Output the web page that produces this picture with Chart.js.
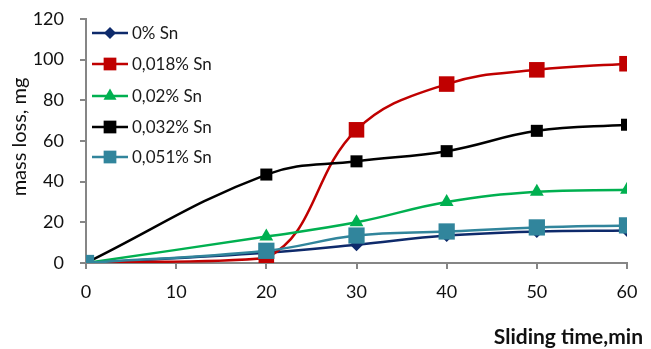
<!DOCTYPE html>
<html>
<head>
<meta charset="utf-8">
<script src="https://cdn.jsdelivr.net/npm/chart.js@4/dist/chart.umd.min.js"></script>
<style>
  html, body { margin: 0; padding: 0; background: #fff; }
  #wrap { width: 651px; height: 349px; }
</style>
</head>
<body>
<div id="wrap"><canvas id="c" width="651" height="349"></canvas></div>
<script>
// Sliding time (min) at which mass loss was measured
const times = [0, 20, 30, 40, 50, 60];

// Mass loss (mg) per tin content
const seriesNames = ['0% Sn', '0,018% Sn', '0,02% Sn', '0,032% Sn', '0,051% Sn'];
const sn0   = [0, 5, 9, 13.5, 15.5, 16];
const sn018 = [0, 2.5, 65.5, 88, 95, 98];
const sn02  = [0, 13, 20, 30, 35, 36];
const sn032 = [0, 43.5, 50, 55, 65, 68];
const sn051 = [0, 6, 13.5, 15.5, 17.5, 18.5];

const yTicks = [0, 20, 40, 60, 80, 100, 120];
const xTicks = [0, 10, 20, 30, 40, 50, 60];

const xTitle = 'Sliding time,min';
const yTitle = 'mass loss, mg';

const FONT = 'Lato, "Liberation Sans", sans-serif';
const AXIS = '#868686';

function pts(vals) {
  return times.map((t, i) => ({ x: t, y: vals[i] }));
}

const styles = [
  { color: '#0E2A6B', point: 'rectRot', r: 6.5 },
  { color: '#C00000', point: 'rect', r: 11 },
  { color: '#00B050', point: 'triangle', r: 8 },
  { color: '#000000', point: 'rect', r: 8.5 },
  { color: '#31859C', point: 'rect', r: 11.5 }
];
const values = [sn0, sn018, sn02, sn032, sn051];

const datasets = values.map((v, i) => ({
  label: seriesNames[i],
  data: pts(v),
  borderColor: styles[i].color,
  backgroundColor: styles[i].color,
  borderWidth: 2.5,
  pointStyle: styles[i].point,
  pointRadius: styles[i].r,
  pointHoverRadius: styles[i].r,
  pointBorderWidth: 0,
  tension: 0.4,
  order: 5 - i
}));

// Legend drawn inside the plot: line sample with centred marker, then label
const insideLegend = {
  id: 'insideLegend',
  afterDatasetsDraw(chart) {
    const ctx = chart.ctx;
    const x0 = 92, x1 = 128, tx = 132;
    const rows = [33, 64, 96, 127, 157];
    ctx.save();
    chart.data.datasets.forEach((ds, i) => {
      const y = rows[i];
      ctx.strokeStyle = ds.borderColor;
      ctx.lineWidth = 2.5;
      ctx.beginPath();
      ctx.moveTo(x0, y);
      ctx.lineTo(x1, y);
      ctx.stroke();
      ctx.fillStyle = ds.backgroundColor;
      const r = ds.pointStyle === 'rect' ? 9 : (ds.pointStyle === 'triangle' ? 7.5 : 6);
      Chart.helpers.drawPoint(ctx, { pointStyle: ds.pointStyle, radius: r, borderWidth: 0 }, (x0 + x1) / 2, y);
      ctx.fillStyle = '#1a1a1a';
      ctx.font = '17px ' + FONT;
      ctx.textBaseline = 'middle';
      ctx.textAlign = 'left';
      ctx.fillText(ds.label, tx, y + 1);
    });
    ctx.restore();
  }
};

// Axis titles: x title sits right-aligned under the axis, y title rotated at the far left
const axisTitles = {
  id: 'axisTitles',
  afterDraw(chart) {
    const ctx = chart.ctx;
    ctx.save();
    ctx.fillStyle = '#111';
    ctx.textBaseline = 'middle';
    ctx.font = 'bold 21px ' + FONT;
    ctx.textAlign = 'right';
    ctx.fillText(xTitle, 643, 337);
    ctx.translate(20, 137);
    ctx.rotate(-Math.PI / 2);
    ctx.textAlign = 'center';
    ctx.font = '20px ' + FONT;
    ctx.fillText(yTitle, 0, 0);
    ctx.restore();
  }
};

new Chart(document.getElementById('c'), {
  type: 'line',
  data: { datasets },
  plugins: [insideLegend, axisTitles],
  options: {
    responsive: false,
    animation: false,
    layout: { padding: { left: 0, right: 24, top: 19, bottom: 0 } },
    plugins: { legend: { display: false }, tooltip: { enabled: false } },
    scales: {
      x: {
        type: 'linear',
        min: 0, max: 60,
        afterBuildTicks(scale) { scale.ticks = xTicks.map(v => ({ value: v })); },
        afterFit(scale) { scale.height = 86; },
        grid: { drawOnChartArea: false, color: AXIS, lineWidth: 2, tickLength: 6 },
        border: { color: AXIS, width: 2 },
        ticks: { color: '#111', font: { family: FONT, size: 18 }, padding: 12 }
      },
      y: {
        min: 0, max: 120,
        afterBuildTicks(scale) { scale.ticks = yTicks.map(v => ({ value: v })); },
        afterFit(scale) {
          scale.width = 86;
          // top label overhang fits inside the layout padding
          scale.paddingTop = 0;
          scale.paddingBottom = 0;
        },
        grid: { drawOnChartArea: false, color: AXIS, lineWidth: 2, tickLength: 6 },
        border: { color: AXIS, width: 2 },
        ticks: { color: '#111', font: { family: FONT, size: 18 }, padding: 16 }
      }
    }
  }
});
</script>
</body>
</html>
